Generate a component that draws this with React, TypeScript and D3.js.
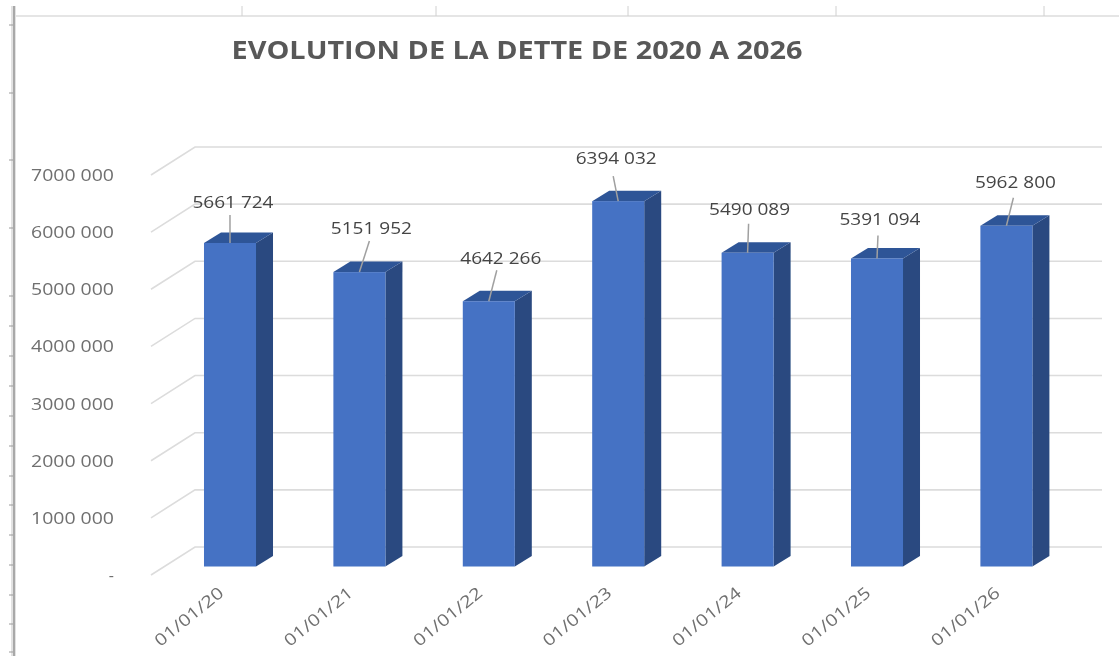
import { useEffect, useRef } from 'react';
import * as d3 from 'd3';

const TITLE = 'EVOLUTION DE LA DETTE DE 2020 A 2026';
const dates = ['01/01/20', '01/01/21', '01/01/22', '01/01/23', '01/01/24', '01/01/25', '01/01/26'];
const debt = [5661724, 5151952, 4642266, 6394032, 5490089, 5391094, 5962800];
const yTicks = [0, 1000000, 2000000, 3000000, 4000000, 5000000, 6000000, 7000000];
const displayedLabels = ['5661 724', '5151 952', '4642 266', '6394 032', '5490 089', '5391 094', '5962 800'];

// where Excel left each data label, relative to the bar's top-left corner
const labelOffsets = [[29, -41], [38, -44], [38, -43], [24, -43], [28, -44], [29, -39], [35, -44]];
const leaderEnds = [[26, -28], [36, -31], [34, -31], [21, -25], [27, -29], [27, -23], [33, -28]];

const rulerTop = [242, 436, 628, 836, 1044];
const rulerLeft = [25, 93, 160, 228, 296, 326, 356, 386, 416, 446, 476, 505, 535, 565, 595, 624, 652];

const fmtTick = (v: number) => {
  if (v === 0) return '-';
  const s = String(v);
  return `${s.slice(0, -3)} ${s.slice(-3)}`;
};

export default function App() {
  const svgRef = useRef<SVGSVGElement>(null);

  useEffect(() => {
    const svg = d3.select(svgRef.current);
    svg.selectAll('*').remove();

    const font = '"Open Sans", sans-serif';

    const defs = svg.append('defs');
    defs.append('filter').attr('id', 'soft').append('feGaussianBlur').attr('stdDeviation', 0.6);
    const root = svg.append('g').attr('filter', 'url(#soft)');

    // bout de feuille Excel autour du graphique
    root.append('line').attr('x1', 15).attr('x2', 1119).attr('y1', 16).attr('y2', 16)
      .attr('stroke', '#dcdcdc').attr('stroke-width', 1.5);
    root.append('g').selectAll('line').data(rulerTop).join('line')
      .attr('x1', d => d).attr('x2', d => d).attr('y1', 6).attr('y2', 16)
      .attr('stroke', '#d0d0d0');
    root.append('rect').attr('x', 11).attr('y', 6).attr('width', 5).attr('height', 650).attr('fill', '#e2e2e2');
    root.append('rect').attr('x', 13).attr('y', 6).attr('width', 2).attr('height', 650).attr('fill', '#a8a8a8');
    root.append('g').selectAll('line').data(rulerLeft).join('line')
      .attr('x1', 9).attr('x2', 13).attr('y1', d => d).attr('y2', d => d)
      .attr('stroke', '#9a9a9a');

    root.append('text').attr('x', 517).attr('y', 59).attr('text-anchor', 'middle')
      .attr('font-family', font).attr('font-weight', 700).attr('font-size', 25.5)
      .attr('fill', '#595959').attr('textLength', 571).attr('lengthAdjust', 'spacingAndGlyphs')
      .text(TITLE);

    const yScale = d3.scaleLinear().domain([0, 7000000]).range([566.5, 166.5]);
    const xScale = d3.scaleBand<string>().domain(dates).range([165.3, 1071.1])
      .paddingInner(0.598).paddingOuter(0.299);
    const barW = xScale.bandwidth();

    // mur du fond et plancher : plan avant décalé vers le fond
    const wallLeft = 195;
    const wallRight = 1102;
    const floorDx = 44;
    const wallDy = -19.5;
    const floorDy = 8.5;

    const grid = root.append('g');
    yTicks.forEach(t => {
      const y = yScale(t);
      grid.append('path')
        .attr('d', `M${wallLeft - floorDx},${y + floorDy}L${wallLeft},${y + wallDy}L${wallRight},${y + wallDy}`)
        .attr('fill', 'none').attr('stroke', '#dcdcdc').attr('stroke-width', 1.6);
    });

    const tickG = root.append('g');
    yTicks.forEach(t => {
      const label = tickG.append('text').attr('x', 114).attr('y', yScale(t) + 14.5).attr('text-anchor', 'end')
        .attr('font-family', font).attr('font-size', 16).attr('fill', '#6f6f6f').text(fmtTick(t));
      if (t !== 0) label.attr('textLength', 83).attr('lengthAdjust', 'spacingAndGlyphs');
    });

    const depthX = 17;
    const depthY = -10.5;

    const bars = root.append('g').selectAll('g').data(dates).join('g');
    bars.each(function (d, i) {
      const g = d3.select(this);
      const x0 = xScale(d)!;
      const x1 = x0 + barW;
      const top = yScale(debt[i]);
      const bottom = yScale(0);
      g.append('path').attr('fill', '#2a4a80')
        .attr('d', `M${x1},${top}L${x1 + depthX},${top + depthY}L${x1 + depthX},${bottom + depthY}L${x1},${bottom}Z`);
      g.append('path').attr('fill', '#2f5597')
        .attr('d', `M${x0},${top}L${x0 + depthX},${top + depthY}L${x1 + depthX},${top + depthY}L${x1},${top}Z`);
      g.append('rect').attr('x', x0).attr('y', top).attr('width', barW).attr('height', bottom - top)
        .attr('fill', '#4472c4');

      const [lx, ly] = labelOffsets[i];
      const [ex, ey] = leaderEnds[i];
      g.append('line').attr('x1', x0 + ex).attr('y1', top + ey).attr('x2', x0 + barW / 2).attr('y2', top)
        .attr('stroke', '#a0a0a0').attr('stroke-width', 1.5);
      g.append('text').attr('x', x0 + lx).attr('y', top + ly + 6).attr('text-anchor', 'middle')
        .attr('font-family', font).attr('font-size', 16).attr('fill', '#454545')
        .attr('textLength', 81).attr('lengthAdjust', 'spacingAndGlyphs')
        .text(displayedLabels[i]);

      const ax = x0 + barW / 2 - 8;
      g.append('text').attr('transform', `translate(${ax},${bottom + 25}) rotate(-39)`)
        .attr('text-anchor', 'end').attr('dominant-baseline', 'middle')
        .attr('font-family', font).attr('font-size', 16.5).attr('fill', '#6f6f6f')
        .attr('textLength', 83).attr('lengthAdjust', 'spacingAndGlyphs')
        .text(d);
    });
  }, []);

  return (
    <svg ref={svgRef} width={1119} height={656}
      style={{ position: 'absolute', left: 0, top: 0, display: 'block', background: '#fff' }} />
  );
}
